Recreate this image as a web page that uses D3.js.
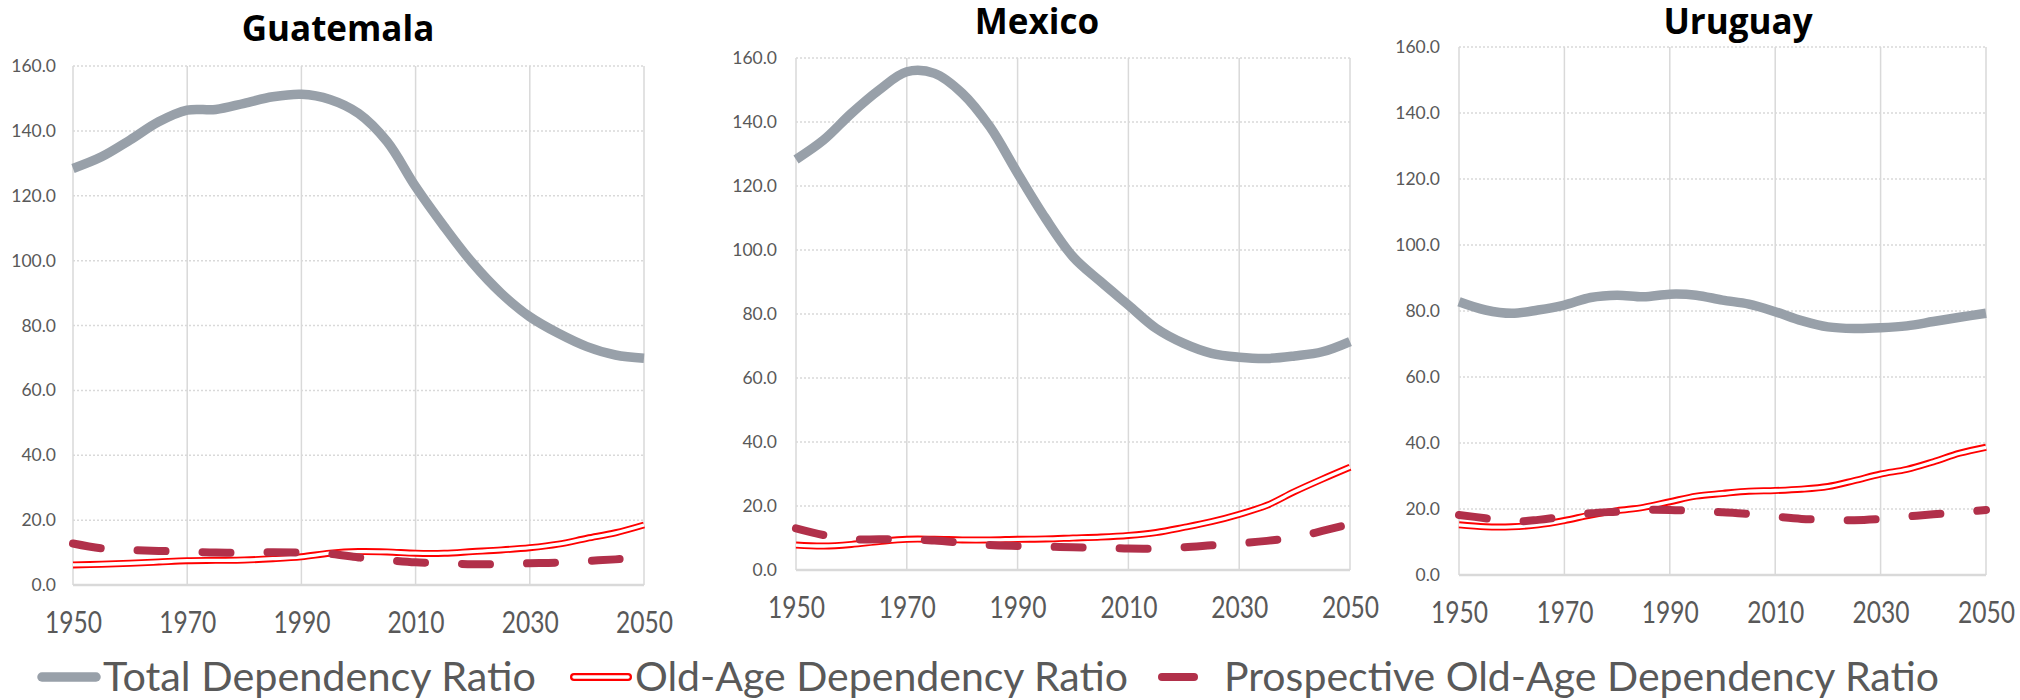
<!DOCTYPE html>
<html><head><meta charset="utf-8">
<script src="https://cdn.jsdelivr.net/npm/d3@7"></script>
<style>
html,body{margin:0;padding:0;background:#fff;}
svg{display:block;}
</style></head>
<body>
<svg id="chart" width="2020" height="700"></svg>
<script>
// ---------- data ----------
const years = [1950,1955,1960,1965,1970,1975,1980,1985,1990,1995,2000,2005,2010,2015,2020,2025,2030,2035,2040,2045,2050];
const xTickValues = [1950,1970,1990,2010,2030,2050];
const yTickValues = [0,20,40,60,80,100,120,140,160];
const countries = ["Guatemala","Mexico","Uruguay"];
const seriesNames = ["Total Dependency Ratio","Old-Age Dependency Ratio","Prospective Old-Age Dependency Ratio"];

const guatemalaTotal       = [128.4,132.0,137.2,142.8,146.4,146.6,148.5,150.5,151.3,149.7,145.4,136.7,122.8,110.5,99.2,89.9,82.7,77.6,73.5,70.9,69.9];
const guatemalaOldAge      = [6.2,6.4,6.7,7.1,7.5,7.6,7.7,8.1,8.7,9.8,10.3,10.2,9.8,9.8,10.3,10.8,11.5,12.6,14.4,16.1,18.5];
const guatemalaProspective = [12.8,11.3,10.8,10.5,10.3,10.0,10.0,10.1,10.0,9.6,8.5,7.7,7.0,6.7,6.4,6.5,6.7,6.9,7.4,7.9,8.5];

const mexicoTotal       = [128.3,134.4,142.7,150.0,155.7,155.2,149.0,138.5,124.0,110.0,97.9,90.1,82.8,75.5,70.8,67.7,66.5,66.1,66.9,68.2,71.4];
const mexicoOldAge      = [7.8,7.5,8.0,8.9,9.6,9.6,9.4,9.4,9.6,9.7,10.0,10.3,10.8,11.7,13.3,15.1,17.4,20.2,24.5,28.4,32.1];
const mexicoProspective = [13.0,10.9,9.6,9.6,9.6,9.2,8.5,7.8,7.5,7.3,7.1,7.0,6.7,6.7,7.1,7.7,8.3,9.1,10.2,12.2,14.4];

const uruguayTotal       = [82.8,80.3,79.3,80.3,81.8,84.1,84.8,84.3,85.1,84.8,83.3,82.1,79.8,77.1,75.2,74.7,74.9,75.5,76.8,78.1,79.3];
const uruguayOldAge      = [15.2,14.6,14.6,15.2,16.5,18.2,19.5,20.5,22.2,23.9,24.7,25.4,25.6,26.0,26.8,28.6,30.6,32.0,34.3,36.9,38.7];
const uruguayProspective = [18.2,17.2,16.2,16.7,17.7,18.7,19.2,19.7,19.7,19.4,19.0,18.5,17.7,17.0,16.7,16.6,17.0,17.7,18.4,19.0,19.7];

const panelSeries = [
  [guatemalaTotal, guatemalaOldAge, guatemalaProspective],
  [mexicoTotal, mexicoOldAge, mexicoProspective],
  [uruguayTotal, uruguayOldAge, uruguayProspective]
];

// ---------- layout & style ----------
const layout = [
  {left:73,  right:644,  top:66, bottom:585, titleX:338,  titleY:41, yLabelRight:56,   xLabelBase:633},
  {left:796, right:1350, top:58, bottom:570, titleX:1037, titleY:34, yLabelRight:777,  xLabelBase:618},
  {left:1459,right:1986, top:47, bottom:575, titleX:1738, titleY:34, yLabelRight:1440, xLabelBase:623}
];
const colTotal = "#98a0a9", colOld = "#ff0000", colProsp = "#b1304a";
const gridCol = "#d9d9d9", textCol = "#595959";
const bodyFont = "Lato, 'Open Sans', sans-serif";

const svg = d3.select("#chart");

countries.forEach((name, i) => {
  const L = layout[i];
  const [tot, old, pro] = panelSeries[i];
  const x = d3.scaleLinear().domain([1950, 2050]).range([L.left, L.right]);
  const y = d3.scaleLinear().domain([0, 160]).range([L.bottom, L.top]);
  const g = svg.append("g");

  // horizontal dotted gridlines
  g.selectAll(".hgrid").data(yTickValues.filter(v => v > 0)).enter().append("line")
    .attr("x1", L.left).attr("x2", L.right)
    .attr("y1", d => y(d)).attr("y2", d => y(d))
    .attr("stroke", gridCol).attr("stroke-width", 1.5).attr("stroke-dasharray", "2 2");
  // vertical gridlines
  g.selectAll(".vgrid").data(xTickValues).enter().append("line")
    .attr("x1", d => x(d)).attr("x2", d => x(d))
    .attr("y1", y(160)).attr("y2", y(0))
    .attr("stroke", gridCol).attr("stroke-width", 1.5);
  // baseline
  g.append("line").attr("x1", L.left).attr("x2", L.right)
    .attr("y1", y(0)).attr("y2", y(0)).attr("stroke", gridCol).attr("stroke-width", 2.5);

  // y axis
  const yAxis = g.append("g").attr("transform", `translate(${L.left},0)`)
    .call(d3.axisLeft(y).tickValues(yTickValues).tickSize(0).tickPadding(L.left - L.yLabelRight).tickFormat(d3.format(".1f")));
  yAxis.select(".domain").remove();
  yAxis.selectAll("text").attr("fill", textCol).style("font-family", bodyFont).style("font-size", "17.5px");

  // x axis
  const xAxis = g.append("g").attr("transform", `translate(0,${L.bottom})`)
    .call(d3.axisBottom(x).tickValues(xTickValues).tickSize(0).tickFormat(d3.format("d")));
  xAxis.select(".domain").remove();
  xAxis.selectAll("text").attr("fill", textCol).attr("dy", null).attr("y", L.xLabelBase - L.bottom)
    .style("font-family", bodyFont).style("font-size", "30px")
    .attr("textLength", 57).attr("lengthAdjust", "spacingAndGlyphs");

  // title
  g.append("text").attr("x", L.titleX).attr("y", L.titleY).attr("text-anchor", "middle")
    .style("font-family", "'Open Sans', Lato, sans-serif").style("font-weight", "700").style("font-size", "35px")
    .attr("fill", "#000").text(name);

  const line = d3.line().x((d, k) => x(years[k])).y(d => y(d)).curve(d3.curveCatmullRom.alpha(0.5));

  // total
  g.append("path").attr("d", line(tot)).attr("fill", "none").attr("stroke", colTotal)
    .attr("stroke-width", 9.5).attr("stroke-linejoin", "round");
  // old-age (double line)
  g.append("path").attr("d", line(old)).attr("fill", "none").attr("stroke", colOld).attr("stroke-width", 7);
  g.append("path").attr("d", line(old)).attr("fill", "none").attr("stroke", "#fff").attr("stroke-width", 3.3);
  // prospective (dashed)
  g.append("path").attr("d", line(pro)).attr("fill", "none").attr("stroke", colProsp)
    .attr("stroke-width", 8).attr("stroke-dasharray", "28 37").attr("stroke-linecap", "round");
});

// ---------- legend ----------
const legendY = 677;
const legendItems = [
  {name: seriesNames[0], x1: 42, x2: 96, text: 103, len: 433},
  {name: seriesNames[1], x1: 574, x2: 628, text: 635, len: 493},
  {name: seriesNames[2], x1: 1162, x2: 1194, text: 1224, len: 715}
];
const lg = svg.append("g");
legendItems.forEach((it, k) => {
  if (k === 0) {
    lg.append("line").attr("x1", it.x1).attr("x2", it.x2).attr("y1", legendY).attr("y2", legendY)
      .attr("stroke", colTotal).attr("stroke-width", 9.5).attr("stroke-linecap", "round");
  } else if (k === 1) {
    lg.append("line").attr("x1", it.x1).attr("x2", it.x2).attr("y1", legendY).attr("y2", legendY)
      .attr("stroke", colOld).attr("stroke-width", 8).attr("stroke-linecap", "round");
    lg.append("line").attr("x1", it.x1).attr("x2", it.x2).attr("y1", legendY).attr("y2", legendY)
      .attr("stroke", "#fff").attr("stroke-width", 3.5).attr("stroke-linecap", "round");
  } else {
    lg.append("line").attr("x1", it.x1).attr("x2", it.x2).attr("y1", legendY).attr("y2", legendY)
      .attr("stroke", colProsp).attr("stroke-width", 8).attr("stroke-linecap", "round");
  }
  lg.append("text").attr("x", it.text).attr("y", 691).attr("fill", textCol)
    .style("font-family", bodyFont).style("font-size", "40px")
    .attr("textLength", it.len).attr("lengthAdjust", "spacingAndGlyphs").text(it.name);
});
</script>
</body></html>
